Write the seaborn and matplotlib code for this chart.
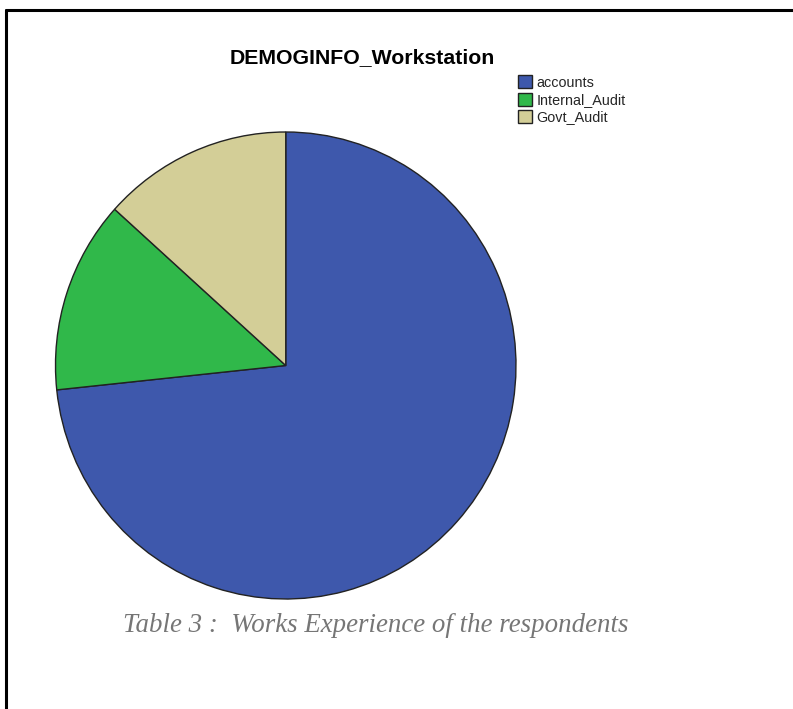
import matplotlib
matplotlib.use('Agg')
import matplotlib.pyplot as plt
from matplotlib.lines import Line2D
import seaborn as sns

# Dados
categorias = ['accounts', 'Internal_Audit', 'Govt_Audit']
contagens = [55, 10, 10]
cores = ['#3E58AC', '#30B84A', '#D3CE97']

sns.set_theme(style="white")
plt.rcParams['font.family'] = ['Liberation Sans', 'DejaVu Sans']

fig = plt.figure(figsize=(7.93, 7.09), dpi=100)
fig.patch.set_facecolor('white')

# Pizza (levemente esticada na vertical, como no original)
ax = fig.add_axes([55.5 / 793, 110 / 709, 460.5 / 793, 467 / 709])
wedges, _ = ax.pie(contagens, colors=cores, startangle=90, counterclock=False,
                   wedgeprops={'edgecolor': '#222222', 'linewidth': 1.0})
ax.set_aspect('auto')
ax.set_xlim(-1.0, 1.0)
ax.set_ylim(-1.0, 1.0)
ax.axis('off')

# Título
fig.text(362.5 / 793, 1 - 58 / 709, 'DEMOGINFO_Workstation', ha='center', va='center',
         fontsize=15.3, fontweight='bold', color='black')

# Legenda
leg = fig.legend(wedges, categorias, loc='upper left', bbox_to_anchor=(518 / 793, 1 - 75.5 / 709),
                 frameon=False, fontsize=10.4, handlelength=0.97, handleheight=1.0,
                 handletextpad=0.3, labelspacing=0.2, borderpad=0, borderaxespad=0)

# Legenda da tabela
fig.text(375.5 / 793, 1 - 625 / 709, 'Table 3 :  Works Experience of the respondents', ha='center', va='center',
         fontsize=19.4, fontstyle='italic', color='#767676', family=['Liberation Serif', 'DejaVu Serif'])

# Moldura (linhas superior e esquerda)
fig.add_artist(Line2D([5.5 / 793, 1.0], [1 - 9.5 / 709, 1 - 9.5 / 709], transform=fig.transFigure,
                      color='black', linewidth=2.2))
fig.add_artist(Line2D([5.5 / 793, 5.5 / 793], [0.0, 1 - 9.5 / 709], transform=fig.transFigure,
                      color='black', linewidth=2.2))

fig.savefig('out.png', dpi=100)
plt.close(fig)
